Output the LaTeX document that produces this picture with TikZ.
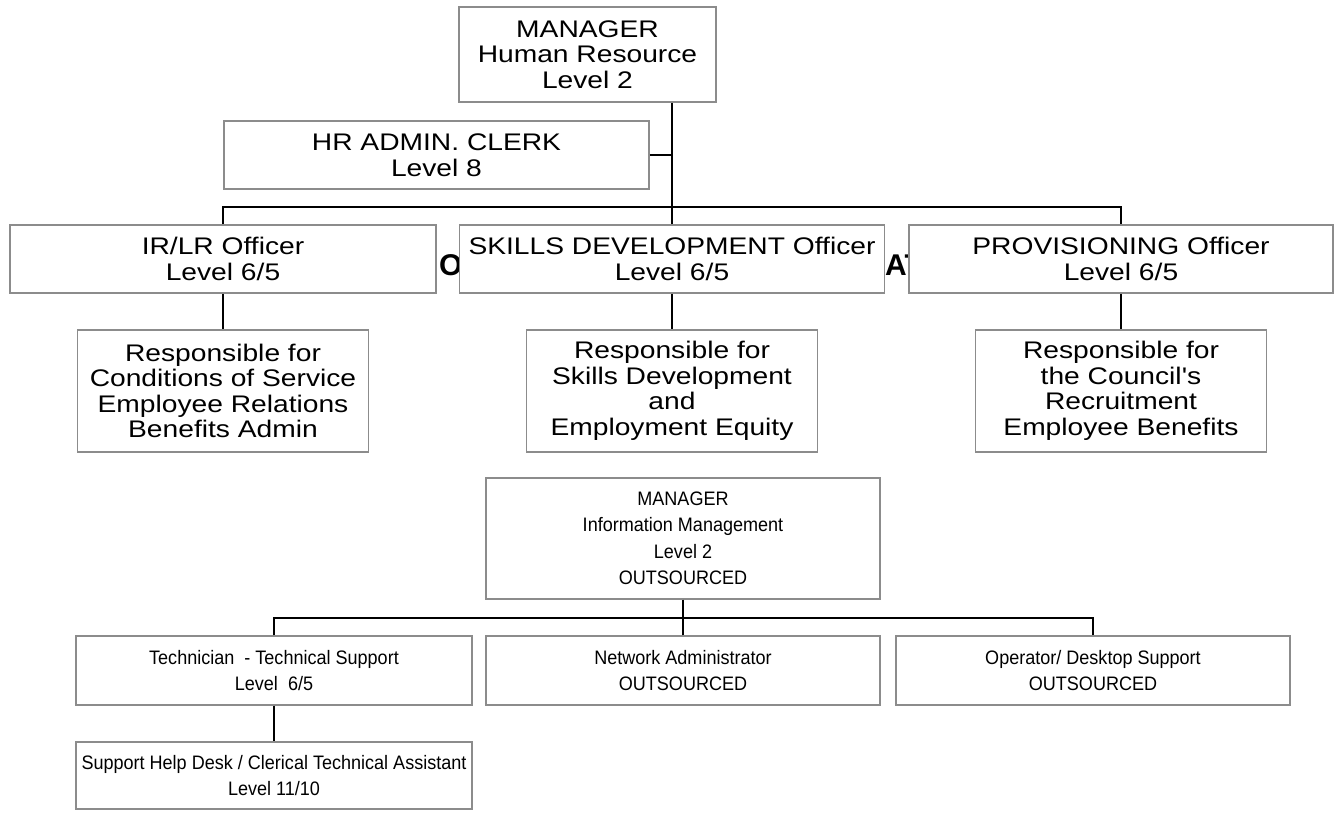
\documentclass[tikz,border=0pt]{standalone}
\usepackage{fontspec}
\setmainfont{Liberation Sans}
\newfontfamily\wideface[FakeStretch=1.175]{Liberation Sans}
\newfontfamily\narrowface[FakeStretch=0.925]{Liberation Sans}
\newfontfamily\titleface{Liberation Sans}
\definecolor{boxline}{RGB}{140,140,140}
\begin{document}
\begin{tikzpicture}[x=1pt,y=-1pt,
  hrbox/.style={draw=boxline, line width=1.6pt, fill=white, inner sep=0pt,
    align=center, font=\wideface\fontsize{24}{25.5}\selectfont},
  imbox/.style={draw=boxline, line width=1.4pt, fill=white, inner sep=0pt,
    align=center, font=\narrowface\fontsize{19.5}{26.5}\selectfont},
  link/.style={draw=black, line width=2pt},
  linklow/.style={draw=black, line width=2pt}]
\useasboundingbox (0,0) rectangle (1341,812);

% heading text partly hidden behind the officer boxes
\node[anchor=base west, inner sep=0pt, font=\titleface\bfseries\fontsize{30}{30}\selectfont] (hdO) at (439,275) {O};
\node[anchor=base west, inner sep=0pt, font=\titleface\bfseries\fontsize{30}{30}\selectfont] (hdAT) at (885,275) {AT};

% --- Human Resource section ---
\node[hrbox, minimum width=257, minimum height=95] (mhr) at (587.5,54.5) {MANAGER\\Human Resource\\Level 2};
\node[hrbox, minimum width=425, minimum height=68] (clerk) at (436.5,155) {HR ADMIN. CLERK\\Level 8};
\node[hrbox, minimum width=426, minimum height=68] (irlr) at (223,259) {IR/LR Officer\\Level 6/5};
\node[hrbox, minimum width=425, minimum height=68] (skills) at (672,259) {SKILLS DEVELOPMENT Officer\\Level 6/5};
\node[hrbox, minimum width=424, minimum height=68] (prov) at (1121,259) {PROVISIONING Officer\\Level 6/5};
\node[hrbox, minimum width=291, minimum height=122] (resA) at (223,391) {Responsible for\\Conditions of Service\\Employee Relations\\Benefits Admin};
\node[hrbox, minimum width=291, minimum height=122] (resB) at (672,391) {Responsible for\\Skills Development\\and\\Employment Equity};
\node[hrbox, minimum width=291, minimum height=122] (resC) at (1121,391) {Responsible for\\the Council's\\Recruitment\\Employee Benefits};

\coordinate (hrbus) at (672,207);
\draw[link] (mhr.south -| hrbus) -- (hrbus);
\draw[link] (clerk.east) -- (clerk.east -| hrbus);
\draw[link] (irlr.north) |- (prov.north |- hrbus) -- (prov.north);
\draw[link] (skills.north) -- (skills.north |- hrbus);
\draw[link] (irlr.south) -- (resA.north);
\draw[link] (skills.south) -- (resB.north);
\draw[link] (prov.south) -- (resC.north);

% --- Information Management section ---
\node[imbox, minimum width=394, minimum height=121] (mim) at (683,538.5) {MANAGER\\Information Management\\Level 2\\OUTSOURCED};
\node[imbox, minimum width=396, minimum height=69] (tech) at (274,670.5) {Technician\ \ - Technical Support\\Level\ \ 6/5};
\node[imbox, minimum width=394, minimum height=69] (net) at (683,670.5) {Network Administrator\\OUTSOURCED};
\node[imbox, minimum width=394, minimum height=69] (oper) at (1093,670.5) {Operator/ Desktop Support\\OUTSOURCED};
\node[imbox, minimum width=396, minimum height=67] (help) at (274,775.5) {Support Help Desk / Clerical Technical Assistant\\Level 11/10};

\coordinate (imbus) at (683,618);
\draw[linklow] (mim.south) -- (imbus);
\draw[linklow] (tech.north) |- (oper.north |- imbus) -- (oper.north);
\draw[linklow] (net.north) -- (net.north |- imbus);
\draw[linklow] (tech.south) -- (help.north);
\end{tikzpicture}
\end{document}
